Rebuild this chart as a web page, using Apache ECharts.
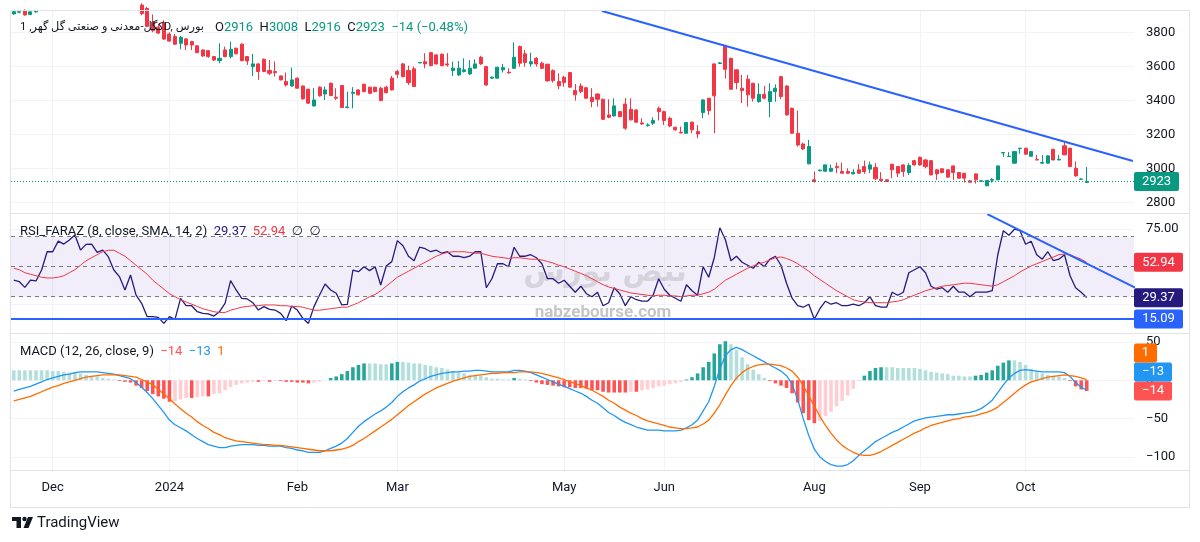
<!DOCTYPE html>
<html><head><meta charset="utf-8">
<script src="https://cdn.jsdelivr.net/npm/echarts@6/dist/echarts.min.js"></script>
<style>html,body{margin:0;padding:0;background:#fff}#c{width:1200px;height:542px}</style>
</head><body><div id="c"></div>
<script>
// ---------------- DATA ----------------
const opens = [
3908,3918,3925,3905,3920,3945,3970,4015,4005,4045,
4040,4060,4105,4070,4090,4095,4080,4090,4070,4035,
4015,3975,4000,3960,3940,3860,3830,3855,3790,3775,
3735,3761,3745,3720,3696,3692,3657,3633,3696,3657,
3706,3730,3657,3598,3614,3641,3575,3569,3543,3510,
3484,3530,3484,3465,3367,3477,3437,3500,3418,3487,
3357,3441,3461,3494,3477,3477,3471,3477,3530,3569,
3614,3575,3585,3620,3627,3680,3667,3671,3614,3575,
3549,3569,3555,3589,3653,3598,3530,3530,3579,3565,
3588,3716,3673,3614,3647,3618,3612,3575,3510,3535,
3563,3457,3484,3474,3416,3437,3406,3314,3308,3333,
3378,3347,3343,3267,3251,3265,3353,3333,3294,3241,
3212,3206,3271,3216,3328,3412,3614,3616,3720,3647,
3579,3471,3524,3500,3392,3435,3392,3451,3539,3484,
3353,3206,3143,3026,2932,2985,2983,2983,3010,2981,
2981,2967,2991,3010,2995,3004,2936,2932,3024,3010,
3020,2975,3045,3065,3049,3045,2991,2997,2991,3014,
2975,2971,2926,2967,2924,2897,2930,2932,3090,3069,
3030,3116,3118,3071,3051,3030,3030,3112,3049,3132,
3118,3000,2936,2916];
const highs = [
3931,3925,3935,3930,3928,3975,4020,4030,4050,4070,
4070,4110,4110,4100,4110,4100,4100,4095,4080,4045,
4020,4010,4005,3970,3950,3905,3850,3870,3800,3790,
3778,3765,3750,3725,3700,3695,3660,3735,3716,3745,
3710,3735,3660,3673,3618,3645,3637,3628,3546,3563,
3592,3535,3488,3468,3471,3482,3481,3505,3471,3490,
3451,3477,3465,3498,3480,3480,3480,3485,3543,3579,
3620,3604,3598,3625,3677,3685,3670,3675,3677,3627,
3631,3647,3637,3641,3661,3602,3540,3598,3614,3588,
3741,3722,3696,3680,3653,3627,3615,3582,3559,3543,
3567,3496,3500,3477,3471,3441,3410,3406,3412,3337,
3412,3412,3347,3294,3265,3300,3363,3339,3304,3245,
3245,3271,3275,3255,3406,3414,3616,3625,3726,3650,
3582,3549,3549,3502,3500,3484,3500,3494,3541,3488,
3357,3339,3151,3167,2981,2993,3022,3022,3034,3034,
3000,2995,3024,3045,3040,3030,2977,2936,3026,3012,
3022,3030,3049,3069,3053,3047,2993,3000,2993,3016,
2977,2973,2932,2969,2930,2930,2942,3016,3095,3095,
3100,3120,3120,3100,3079,3079,3075,3114,3079,3157,
3120,3040,2940,3008];
const lows = [
3903,3912,3898,3900,3915,3940,3960,3995,4000,4030,
4035,4055,4060,4060,4085,4070,4075,4060,4030,4010,
3970,3970,3950,3900,3830,3800,3790,3755,3745,3725,
3700,3696,3696,3678,3655,3650,3632,3618,3653,3647,
3670,3630,3608,3543,3520,3565,3549,3539,3517,3481,
3480,3468,3404,3378,3363,3422,3402,3424,3402,3355,
3353,3353,3428,3447,3437,3447,3395,3440,3457,3530,
3535,3490,3478,3618,3588,3600,3610,3600,3598,3543,
3543,3563,3549,3587,3608,3486,3528,3527,3563,3557,
3586,3598,3598,3598,3598,3584,3510,3504,3465,3480,
3475,3398,3441,3410,3359,3363,3285,3294,3304,3300,
3226,3281,3269,3255,3245,3255,3281,3255,3241,3222,
3206,3204,3206,3177,3294,3314,3206,3614,3528,3461,
3465,3383,3363,3392,3386,3406,3300,3392,3406,3310,
3204,3128,3108,3024,2916,2983,2979,2977,2971,2971,
2967,2967,2967,2967,2971,2932,2922,2920,2942,2948,
2950,2961,3016,3016,3000,2959,2932,2971,2946,2932,
2940,2916,2916,2910,2920,2895,2916,2930,3067,3068,
3028,3085,3080,3069,3048,3028,3028,3047,3047,3077,
3008,2951,2932,2916];
const closes = [
3921,3921,3902,3920,3924,3970,4015,4005,4045,4040,
4060,4105,4070,4090,4095,4080,4090,4070,4035,4015,
3975,4000,3955,3910,3835,3810,3795,3760,3748,3730,
3771,3725,3725,3680,3661,3657,3637,3647,3657,3700,
3673,3633,3631,3614,3569,3569,3559,3563,3520,3490,
3520,3471,3408,3383,3402,3426,3461,3428,3412,3357,
3361,3447,3432,3451,3441,3451,3398,3445,3461,3553,
3539,3504,3481,3622,3614,3604,3614,3604,3608,3589,
3589,3579,3589,3614,3614,3490,3536,3594,3592,3561,
3653,3618,3622,3627,3614,3588,3514,3516,3485,3504,
3477,3432,3451,3412,3392,3406,3288,3300,3367,3304,
3236,3285,3271,3261,3255,3281,3333,3281,3249,3226,
3208,3269,3226,3202,3402,3339,3426,3620,3582,3465,
3504,3457,3432,3412,3435,3412,3451,3471,3422,3314,
3206,3137,3114,3128,2922,2989,3020,3000,3004,2971,
2971,2977,2971,2981,3020,2938,2928,2922,2991,2971,
2981,3016,3020,3020,3010,2961,2967,2975,2948,2975,
2942,2942,2918,2932,2926,2928,2934,3014,3093,3071,
3098,3118,3083,3098,3049,3034,3073,3049,3053,3079,
3010,2955,2937,2923];
const rsi = [
41,40,36.2,41.1,40.5,47.8,60,60,67.1,65.1,
67.8,71.1,61.1,64.9,65.1,59.6,61.1,56.7,47.8,43.4,
34.5,44.5,31.1,25.6,16.7,16.7,16.2,12.2,16.7,14.9,
28.9,24,24,20,18.9,18.5,17.1,20,25.6,40.7,
34.5,28.9,28.5,26,21.1,23.4,21.6,21.1,18.9,14,
23.8,21.1,15.6,12.2,23.4,31.1,38.5,34.5,32.3,24.5,
24.9,47.8,46.7,50,47.4,50,37.8,50.5,53.4,67.4,
64,57,54,63,62,60,61,59,60,57,
57,56,57,60,60,36,42,52,52,50,
63,57,57,58,56,52,42,42,39,41,
37,33,37,32,30,33,24,26,36,32,
24,30,28,27,27,31,42,35,31,29,
27,38,34,31,50,43,56,76,68,54,
57,53,51,49,53,50,55,57,51,39,
29,24,23,25,15,22,27,25,26,24,
24,25,24,26,30,24,23,23,33,31,
33,46,48,50,46,37,35,36,33,37,
33,33,30,33,33,33,34,58,74,71,
75,74,65,67,58,55,60,54,55,58,
44,36,33,29.37];
const rsiMa = [
49,48,46,45,44,43,42.5,42.5,43,44,
46,48,51,54,56,58,60,61,61,59,
57,54,51,48,45,41,38,35,32,30,
28,26.5,25,23.5,22,21,20,19.5,19.5,21,
22,23,23.5,24,24,24.5,24.5,24.5,24,24,
23.5,23.5,23,22,21,21,21.5,22,22.5,23,
23,24.5,26,28,30,31.5,34,37,40,43,
45,47,49,51,53,55,57,58.5,59.5,60,
60,60,59.5,59,59,58,57,56.5,56,55.5,
56,56,55.5,55,55,54.5,53.5,52.5,51,50,
48.5,47,45.5,44,42,40,38,36.5,35.5,34.5,
33.5,32.5,32,31.5,31,30.5,31,31,30.5,30.5,
30,30.5,31,31,32,33,35,38,41,43,
45,47,49,50.5,52,53,54.5,56,56.5,55.5,
54,52,49.5,47,44,41.5,39,36.5,34,32,
30,28,27,26.5,26,26,26,26,26.5,27,
28,29.5,31,32.5,34,35,36,37,37.5,38,
38.5,39,39,38.5,38,37.5,37,38,40,42,
44,46.5,48.5,50.5,52,53.5,55,56.5,58,58.5,
58,56.5,55,52.94];
const macd = [
-14,-12,-10,-8,-5,-2,1,3,5,7,
8,10,11,11,11,11,10,9,8,6,
4,2,-3,-9,-16,-24,-33,-42,-52,-58,
-62,-66,-71,-76,-80,-84,-86,-88,-88,-86,
-85,-84,-84,-84,-85,-85,-86,-86,-86,-88,
-89,-91,-92,-94,-94,-94,-92,-89,-86,-82,
-76,-68,-60,-54,-49,-44,-40,-35,-29,-21,
-15,-10,-6,-1,2,5,7,9,10,11,
11,12,12,13,13,12,11,11,11,11,
13,13,12,10,7,4,1,-2,-5,-8,
-11,-14,-17,-21,-26,-30,-36,-42,-46,-51,
-55,-58,-61,-63,-65,-65,-65,-66,-66,-66,
-65,-62,-58,-52,-40,-28,-8,15,32,40,
43,40,36,32,28,24,20,16,12,6,
-5,-25,-50,-72,-90,-100,-106,-110,-112,-112,
-110,-105,-98,-92,-86,-80,-76,-72,-68,-65,
-61,-57,-53,-51,-49,-48,-47,-46,-45,-45,
-44,-43,-42,-40,-37,-32,-26,-16,-6,3,
9,13,14,13,12,11,11,11,11,10,
5,-3,-9,-13];
const signal = [
-27,-25,-23,-21,-18,-15,-12,-9,-7,-4,
-2,0,2,4,5,6,7,7,7,7,
6,5,4,1,-2,-6,-12,-18,-24,-31,
-37,-43,-48,-54,-59,-63,-68,-71,-75,-77,
-79,-80,-81,-82,-83,-84,-84,-85,-85,-86,
-87,-88,-89,-90,-91,-92,-92,-92,-91,-90,
-88,-85,-80,-76,-71,-66,-61,-56,-51,-45,
-39,-33,-28,-23,-18,-14,-10,-7,-4,-1,
1,3,5,6,7,8,9,9,10,10,
10,11,11,11,10,9,7,5,3,1,
-2,-4,-7,-10,-13,-17,-21,-26,-30,-35,
-39,-43,-46,-50,-53,-55,-57,-59,-61,-62,
-63,-63,-62,-61,-57,-52,-43,-32,-19,-7,
3,10,15,18,20,21,21,20,19,16,
12,4,-7,-20,-34,-47,-59,-69,-78,-85,
-90,-94,-97,-98,-98,-96,-93,-89,-85,-81,
-77,-73,-69,-66,-62,-59,-57,-55,-53,-51,
-50,-48,-47,-46,-44,-42,-39,-35,-29,-23,
-17,-11,-6,-2,0,2,4,5,6,7,
6,5,3,1];
const hist = [
13,13,13,13,13,13,13,12,12,11,
10,10,9,7,6,5,3,2,1,-1,
-2,-3,-7,-10,-14,-18,-21,-24,-28,-27,
-25,-23,-23,-22,-21,-21,-18,-17,-13,-9,
-6,-4,-3,-2,-2,-1,-2,-1,-1,-2,
-2,-3,-3,-4,-3,-2,0,3,5,8,
12,17,20,22,22,22,21,21,22,24,
24,23,22,22,20,19,17,16,14,12,
10,9,7,7,6,4,2,2,1,1,
3,2,1,-1,-3,-5,-6,-7,-8,-9,
-9,-10,-10,-11,-13,-13,-15,-16,-16,-16,
-16,-15,-15,-13,-12,-10,-8,-7,-5,-4,
-2,1,4,9,17,24,35,47,51,47,
40,30,21,14,8,3,-1,-4,-7,-10,
-17,-29,-43,-52,-56,-53,-47,-41,-34,-27,
-20,-11,-1,6,12,16,17,17,17,16,
16,16,16,15,13,11,10,9,8,6,
6,5,5,6,7,10,13,19,23,26,
26,24,20,15,12,9,7,6,5,3,
-1,-8,-12,-14];
const slotCount = 202;                       // daily slots on the time axis (incl. right margin)
const monthIdx = [7,28,51,69,99,117,144,163,182];
const monthLabels = ['Dec','2024','Feb','Mar','May','Jun','Aug','Sep','Oct'];
const priceTicks = [2800,3000,3200,3400,3600,3800];
const rsiTicks = [25,75];
const macdTicks = [-100,-50,0,50];
const rsiLevels = [70,50,30];
const rsiHLine = 15.09;
const priceTrend = [[105.8,3925],[201.3,3043]];
const rsiTrend = [[175.1,85.1],[201.7,36.0]];
const titleText = 'کگل-معدنی و صنعتی گل گهر, 1D, بورس';

// ---------------- CHART ----------------
const FONT = 'Roboto, "DejaVu Sans", sans-serif';
const TXT = '#131722', GRIDC = '#F0F3FA', BORDER = '#E0E3EB';
const UP = '#089981', DOWN = '#F23645', RSI_C = '#251A7D', BLUE = '#2962FF';
const MACD_C = '#2196F3', SIG_C = '#FF6D00';
const L = closes.length - 1;
const slots = Array.from({length: slotCount}, (_, i) => String(i));
const yRanges = [[2737, 3931], [5.8, 84.5], [-117.1, 60.4]];
const grids = [
  {left: 11, right: 66, top: 10, height: 203},
  {left: 11, right: 66, top: 215, height: 118},
  {left: 11, right: 66, top: 334, height: 136}
];
const minus = v => (v < 0 ? '\u2212' + Math.abs(v) : String(v));

const xAxis = [];
for (let g = 0; g < 3; g++) xAxis.push({type: 'category', gridIndex: g, position: 'top', data: slots, boundaryGap: true, show: false});
for (let g = 0; g < 3; g++) xAxis.push({
  type: 'value', gridIndex: g, position: 'bottom', min: -0.5, max: slotCount - 0.5,
  axisLine: {show: false}, axisTick: {show: false, customValues: monthIdx},
  axisLabel: g === 2 ? {show: true, customValues: monthIdx, formatter: v => monthLabels[monthIdx.indexOf(v)],
    color: TXT, fontSize: 13, fontFamily: FONT, margin: 11} : {show: false},
  splitLine: {show: true, lineStyle: {color: GRIDC, width: 1}}
});
function yAx(g, ticks, fmt) {
  return {type: 'value', gridIndex: g, position: 'right', min: yRanges[g][0], max: yRanges[g][1],
    axisLine: {show: false}, axisTick: {show: false, customValues: ticks},
    axisLabel: {customValues: ticks, formatter: fmt, color: TXT, fontSize: 13, fontFamily: FONT, margin: 12},
    splitLine: {show: true, lineStyle: {color: GRIDC, width: 1}}};
}
const yAxis = [yAx(0, priceTicks, v => String(v)), yAx(1, rsiTicks, v => v.toFixed(2)), yAx(2, macdTicks, minus)];

const candleData = opens.map((o, i) => [o, closes[i], lows[i], highs[i]]);
const histData = hist.map((h, i) => {
  const p = i > 0 ? hist[i - 1] : h;
  let c;
  if (h >= 0) c = p < h ? '#26A69A' : '#B2DFDB';
  else c = p < h ? '#FFCDD2' : '#FF5252';
  return {value: h, itemStyle: {color: c}};
});
const noMark = {silent: true, symbol: ['none', 'none'], label: {show: false}, animation: false};

const series = [
  {type: 'candlestick', xAxisIndex: 0, yAxisIndex: 0, data: candleData, barWidth: '64%', clip: true, z: 3,
    itemStyle: {color: UP, color0: DOWN, borderColor: UP, borderColor0: DOWN, borderWidth: 1},
    markLine: Object.assign({}, noMark, {lineStyle: {color: UP, type: [1, 2], width: 1}, data: [{yAxis: closes[L]}]})},
  {type: 'line', xAxisIndex: 3, yAxisIndex: 0, data: priceTrend, symbol: 'none', z: 5,
    lineStyle: {color: BLUE, width: 2}},
  {type: 'line', xAxisIndex: 1, yAxisIndex: 1, data: rsi, symbol: 'none', z: 4,
    lineStyle: {color: RSI_C, width: 1.3},
    markArea: {silent: true, itemStyle: {color: 'rgba(126,87,194,0.1)'},
      data: [[{yAxis: rsiLevels[0]}, {yAxis: rsiLevels[2]}]]},
    markLine: Object.assign({}, noMark, {lineStyle: {color: '#787B86', type: [4, 4], width: 1},
      data: rsiLevels.map(v => ({yAxis: v}))})},
  {type: 'line', xAxisIndex: 1, yAxisIndex: 1, data: rsiMa, symbol: 'none', z: 4,
    lineStyle: {color: DOWN, width: 1},
    markLine: Object.assign({}, noMark, {lineStyle: {color: BLUE, type: 'solid', width: 2}, data: [{yAxis: rsiHLine}]})},
  {type: 'line', xAxisIndex: 4, yAxisIndex: 1, data: rsiTrend, symbol: 'none', z: 5,
    lineStyle: {color: BLUE, width: 2}},
  {type: 'bar', xAxisIndex: 2, yAxisIndex: 2, data: histData, barWidth: '64%', z: 3},
  {type: 'line', xAxisIndex: 2, yAxisIndex: 2, data: macd, symbol: 'none', z: 4, lineStyle: {color: MACD_C, width: 1.3}},
  {type: 'line', xAxisIndex: 2, yAxisIndex: 2, data: signal, symbol: 'none', z: 4, lineStyle: {color: SIG_C, width: 1.3}}
];

const chart = echarts.init(document.getElementById('c'), null, {renderer: 'canvas'});
chart.setOption({
  animation: false, backgroundColor: '#ffffff',
  textStyle: {fontFamily: FONT},
  grid: grids, xAxis, yAxis, series
});

// ---------- overlay texts / boxes ----------
const ctx = document.createElement('canvas').getContext('2d');
ctx.font = '13px ' + FONT;
const BH = 19;
function axisBoxes() {
  const groups = [
    [{v: closes[L], t: String(closes[L]), c: closes[L] >= opens[L] ? UP : DOWN}],
    [{v: rsiMa[L], t: rsiMa[L].toFixed(2), c: DOWN}, {v: rsi[L], t: rsi[L].toFixed(2), c: RSI_C},
     {v: rsiHLine, t: rsiHLine.toFixed(2), c: BLUE}],
    [{v: signal[L], t: minus(signal[L]), c: SIG_C}, {v: macd[L], t: minus(macd[L]), c: MACD_C},
     {v: hist[L], t: minus(hist[L]), c: '#FF5252'}]
  ];
  const els = [];
  groups.forEach((items, g) => {
    items.forEach(it => { it.y = chart.convertToPixel({yAxisIndex: g}, it.v); });
    items.sort((a, b) => b.y - a.y);
    let prev = Infinity;
    items.forEach(it => {
      const y = Math.min(it.y, prev - BH);
      prev = y;
      const w = Math.round(ctx.measureText(it.t).width + 16);
      els.push({type: 'rect', shape: {x: 1134, y: y - BH / 2, width: w, height: BH, r: 2}, style: {fill: it.c}, z: 100});
      els.push({type: 'text', x: 1134 + w / 2, y: y, z: 101,
        style: {text: it.t, fill: '#fff', fontSize: 13, fontFamily: FONT, align: 'center', verticalAlign: 'middle',
          textAlign: 'center', textVerticalAlign: 'middle'}});
    });
  });
  return els;
}
// title font sized so that it fits before the OHLC block, as in the reference
const ctxT = document.createElement('canvas').getContext('2d');
ctxT.font = '12px ' + FONT;
const titleSize = Math.min(12, 12 * 184 / ctxT.measureText(titleText).width);

const chg = closes[L] - closes[L - 1];
const pct = (chg / closes[L - 1] * 100).toFixed(2);
const hc = closes[L] >= opens[L] ? 'g' : 'r';
const ohlc = `{k|O}{${hc}|${opens[L]}}  {k|H}{${hc}|${highs[L]}}  {k|L}{${hc}|${lows[L]}}  {k|C}{${hc}|${closes[L]}}  {${hc}|${minus(chg)} (${minus(+pct)}%)}`;
function txt(x, y, text, rich, size) {
  return {type: 'text', x, y, z: 50,
    style: {text, rich, fill: TXT, fontSize: size || 13, fontFamily: FONT, verticalAlign: 'middle', textVerticalAlign: 'middle'}};
}
const rs = c => ({fill: c, fontSize: 13, fontFamily: FONT});
const rich = {
  k: rs(TXT), g: rs(UP), r: rs(DOWN), t: rs(TXT), a: rs(RSI_C), b: rs(DOWN), c: rs('#131722'),
  h: rs('#FF5252'), m: rs(MACD_C), s: rs(SIG_C)
};
const line = (x1, y1, x2, y2) => ({type: 'line', shape: {x1, y1, x2, y2}, style: {stroke: BORDER, lineWidth: 1}, z: 60, silent: true});
const statics = [
  {type: 'rect', shape: {x: 10.5, y: 10.5, width: 1179, height: 497}, style: {fill: 'none', stroke: BORDER, lineWidth: 1}, z: 60},
  line(10, 213.5, 1190, 213.5),
  line(10, 333.5, 1190, 333.5),
  line(10, 470.5, 1190, 470.5),
  // watermark
  {type: 'text', x: 605, y: 273, z: 1, style: {text: 'نبض بورس', fill: 'rgba(120,120,120,0.22)', fontSize: 30, fontWeight: 'bold',
    fontFamily: '"DejaVu Sans", sans-serif', align: 'center', verticalAlign: 'middle', textAlign: 'center', textVerticalAlign: 'middle'}},
  {type: 'text', x: 603, y: 313, z: 1, style: {text: 'nabzebourse.com', fill: 'rgba(90,90,90,0.35)', fontSize: 17, fontWeight: 'bold',
    fontFamily: FONT, align: 'center', verticalAlign: 'middle', textAlign: 'center', textVerticalAlign: 'middle'}},
  // headers
  txt(20, 27.5, titleText, null, titleSize),
  txt(215, 27.5, ohlc, rich),
  txt(20, 232, `{t|RSI_FARAZ (8, close, SMA, 14, 2)}  {a|${rsi[L].toFixed(2)}}  {b|${rsiMa[L].toFixed(2)}}  {c|\u2205}  {c|\u2205}`, rich),
  txt(20, 352, `{t|MACD (12, 26, close, 9)}  {h|${minus(hist[L])}}  {m|${minus(macd[L])}}  {s|${minus(signal[L])}}`, rich),
  // TradingView logo
  {type: 'rect', shape: {x: 12, y: 517, width: 9, height: 4}, style: {fill: TXT}, z: 60},
  {type: 'rect', shape: {x: 16.5, y: 517, width: 4.5, height: 11}, style: {fill: TXT}, z: 60},
  {type: 'circle', shape: {cx: 24.5, cy: 519, r: 2.2}, style: {fill: TXT}, z: 60},
  {type: 'polygon', shape: {points: [[28, 517], [33, 517], [28.5, 528], [23.5, 528]]}, style: {fill: TXT}, z: 60},
  txt(37, 523, 'TradingView', null, 15)
];
chart.setOption({graphic: {elements: statics.concat(axisBoxes())}});
</script>
</body></html>
